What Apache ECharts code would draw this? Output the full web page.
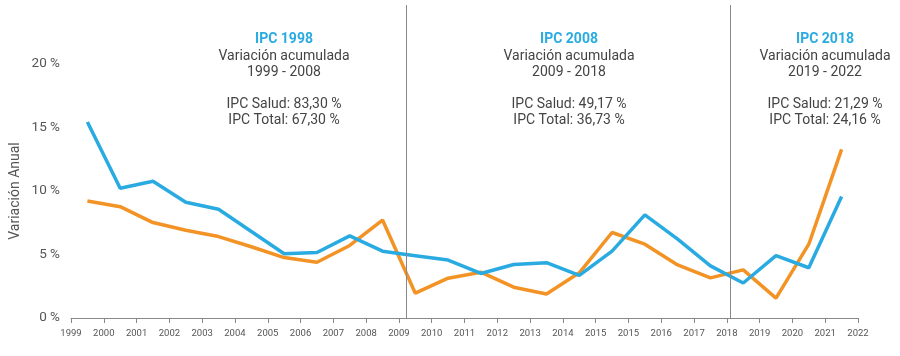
<!DOCTYPE html>
<html>
<head>
<meta charset="utf-8">
<script src="https://cdn.jsdelivr.net/npm/echarts@6/dist/echarts.min.js"></script>
<style>html,body{margin:0;padding:0;background:#fff;}#c{width:900px;height:356px;}</style>
</head>
<body>
<div id="c"></div>
<script>
var tickLabels = ['1999','2000','2001','2002','2003','2004','2005','2006','2007','2008','2009','2010','2011','2012','2013','2014','2015','2015','2016','2017','2018','2019','2020','2021','2022'];
var ipcSalud = [15.4, 10.2, 10.75, 9.1, 8.55, 6.8, 5.05, 5.15, 6.45, 5.25, 4.9, 4.55, 3.5, 4.2, 4.35, 3.35, 5.25, 8.1, 6.2, 4.1, 2.75, 4.9, 3.95, 9.55];
var ipcTotal = [9.2, 8.75, 7.5, 6.9, 6.4, 5.6, 4.75, 4.38, 5.7, 7.7, 1.95, 3.13, 3.6, 2.42, 1.88, 3.55, 6.72, 5.8, 4.17, 3.15, 3.78, 1.56, 5.8, 13.25];
var separators = [10.22, 20.1];
var blocks = [
  {x: 284, title: 'IPC 1998', sub: 'Variación acumulada', range: '1999 - 2008', salud: 'IPC Salud: 83,30 %', total: 'IPC Total: 67,30 %'},
  {x: 569, title: 'IPC 2008', sub: 'Variación acumulada', range: '2009 - 2018', salud: 'IPC Salud: 49,17 %', total: 'IPC Total: 36,73 %'},
  {x: 825, title: 'IPC 2018', sub: 'Variación acumulada', range: '2019 - 2022', salud: 'IPC Salud: 21,29 %', total: 'IPC Total: 24,16 %'}
];

function toPairs(arr){ return arr.map(function(v,i){ return [i+0.5, v]; }); }

var graphics = [];
blocks.forEach(function(b){
  graphics.push({type:'text', x: b.x, y: 32, style:{text:b.title, fill:'#29abe2', font:'bold 14px Roboto', textAlign:'center', textVerticalAlign:'top'}});
  graphics.push({type:'text', x: b.x, y: 48, style:{text:b.sub + '\n' + b.range + '\n\n' + b.salud + '\n' + b.total, fill:'#444', font:'14px Roboto', lineHeight:16, textAlign:'center', textVerticalAlign:'top'}});
});
graphics.push({type:'text', x: 15, y: 191, rotation: Math.PI/2, style:{text:'Variación Anual', fill:'#555', font:'14px Roboto', textAlign:'center', textVerticalAlign:'middle'}});

var chart = echarts.init(document.getElementById('c'), null, {renderer:'canvas'});
chart.setOption({
  animation: false,
  backgroundColor: '#fff',
  grid: {left: 71, right: 42, top: 5, bottom: 38},
  xAxis: {
    type: 'value', min: 0, max: 24, interval: 1,
    splitLine: {show:false},
    axisLine: {show:true, lineStyle:{color:'#888', width:1}},
    axisTick: {show:true, length:5, lineStyle:{color:'#888'}},
    axisLabel: {color:'#555', fontSize:9.5, fontFamily:'Roboto', margin:11, formatter:function(v){ return tickLabels[Math.round(v)] || ''; }}
  },
  yAxis: {
    type: 'value', min: 0, max: 24.6, interval: 5,
    splitLine: {show:false},
    axisLine: {show:false},
    axisTick: {show:false},
    axisLabel: {color:'#555', fontSize:13.5, fontFamily:'Roboto', margin:11, showMaxLabel:false, formatter:function(v){ return v + ' %'; }}
  },
  series: [
    {name:'IPC Salud', type:'line', data: toPairs(ipcSalud), symbol:'none', lineStyle:{color:'#29abe2', width:3.5}, z:3,
     markLine:{silent:true, symbol:'none', label:{show:false}, lineStyle:{color:'#888', width:1, type:'solid'}, data: separators.map(function(s){ return {xAxis:s}; })}},
    {name:'IPC Total', type:'line', data: toPairs(ipcTotal), symbol:'none', lineStyle:{color:'#f39325', width:3.5}, z:2}
  ],
  graphic: graphics
});
</script>
</body>
</html>
